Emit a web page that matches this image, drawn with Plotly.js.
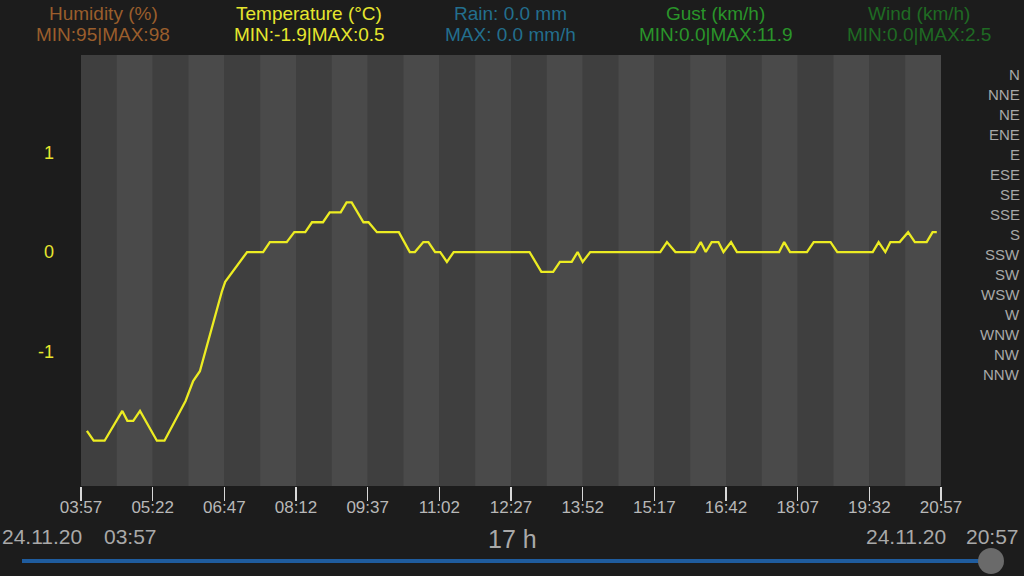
<!DOCTYPE html>
<html>
<head>
<meta charset="utf-8">
<script src="https://cdn.plot.ly/plotly-3.0.1.min.js"></script>
<style>
html,body{margin:0;padding:0;background:#1c1c1c;}
#chart{width:1024px;height:576px;}
</style>
</head>
<body>
<div id="chart"></div>
<script>
// ---- data ----
var day = '2020-11-24';
var times = ['04:04','04:12','04:25','04:46','04:52','04:59','05:07','05:27','05:36','06:01','06:10','06:18','06:44','06:48','07:14','07:33','07:41','08:01','08:10','08:23','08:31','08:44','08:52','09:05','09:12','09:18','09:32','09:38','09:48','10:14','10:27','10:33','10:43','10:49','10:57','11:03','11:11','11:19','12:49','13:03','13:17','13:25','13:39','13:46','13:52','14:01','15:24','15:32','15:42','16:05','16:12','16:18','16:25','16:33','16:39','16:48','16:55','17:45','17:51','17:58','18:18','18:26','18:46','18:54','19:36','19:43','19:51','19:57','20:08','20:18','20:26','20:40','20:47','20:52'];
var temperature = [-1.8,-1.9,-1.9,-1.6,-1.7,-1.7,-1.6,-1.9,-1.9,-1.5,-1.3,-1.2,-0.4,-0.3,0.0,0.0,0.1,0.1,0.2,0.2,0.3,0.3,0.4,0.4,0.5,0.5,0.3,0.3,0.2,0.2,0.0,0.0,0.1,0.1,0.0,0.0,-0.1,0.0,0.0,-0.2,-0.2,-0.1,-0.1,0.0,-0.1,0.0,0.0,0.1,0.0,0.0,0.1,0.0,0.1,0.1,0.0,0.1,0.0,0.0,0.1,0.0,0.0,0.1,0.1,0.0,0.0,0.1,0.0,0.1,0.1,0.2,0.1,0.1,0.2,0.2];
var xTickLabels = ['03:57','05:22','06:47','08:12','09:37','11:02','12:27','13:52','15:17','16:42','18:07','19:32','20:57'];
var yTickVals = [-1, 0, 1];
var directions = ['N','NNE','NE','ENE','E','ESE','SE','SSE','S','SSW','SW','WSW','W','WNW','NW','NNW'];
var headerTitles = ['Humidity (%)','Temperature (\u00B0C)','Rain: 0.0 mm','Gust (km/h)','Wind (km/h)'];
var headerValues = ['MIN:95|MAX:98','MIN:-1.9|MAX:0.5','MAX: 0.0 mm/h','MIN:0.0|MAX:11.9','MIN:0.0|MAX:2.5'];
var headerColors = ['#9a5e2c','#e6e62e','#236f8e','#2a952a','#1f6a23'];
var startLabel = ['24.11.20','03:57'];
var endLabel = ['24.11.20','20:57'];
var spanLabel = '17 h';

// ---- build ----
var FONT = 'Liberation Sans, Arial, Helvetica, sans-serif';
var W = 1024, H = 576, L = 81, R = 83, T = 55, B = 90;
var pw = W - L - R, ph = H - T - B;
function px(x){ return (x - L) / pw; }
function py(y){ return (H - B - y) / ph; }

var xs = times.map(function(t){ return day + ' ' + t; });
var tickVals = xTickLabels.map(function(t){ return day + ' ' + t; });

function toMs(s){ return new Date(s.replace(' ','T') + ':00Z').getTime(); }
function fromMs(ms){ var d = new Date(ms); return d.toISOString().slice(0,19).replace('T',' '); }

var shapes = [];
for (var i = 0; i < tickVals.length - 1; i++) {
  var a = toMs(tickVals[i]), b = toMs(tickVals[i+1]), m = (a + b) / 2;
  shapes.push({type:'rect', xref:'x', yref:'paper', x0: fromMs(a), x1: fromMs(m), y0:0, y1:1, fillcolor:'#3f3f3f', line:{width:0}, layer:'below'});
  shapes.push({type:'rect', xref:'x', yref:'paper', x0: fromMs(m), x1: fromMs(b), y0:0, y1:1, fillcolor:'#4a4a4a', line:{width:0}, layer:'below'});
}
// slider decoration
shapes.push({type:'line', xref:'paper', yref:'paper', x0: px(22), x1: px(985), y0: py(561), y1: py(561), line:{color:'#1f5c9e', width:4}});
shapes.push({type:'circle', xref:'paper', yref:'paper', x0: px(978), x1: px(1004), y0: py(574), y1: py(548), fillcolor:'#6a6a6a', line:{width:0}});

var annotations = [];
var headerX = [103, 309, 510, 715, 919];
for (var j = 0; j < headerTitles.length; j++) {
  annotations.push({xref:'paper', yref:'paper', x: px(headerX[j]), y: py(13.5), text: headerTitles[j], showarrow:false, xanchor:'center', yanchor:'middle', font:{family:FONT, size:19, color:headerColors[j]}});
  annotations.push({xref:'paper', yref:'paper', x: px(headerX[j]), y: py(34), text: headerValues[j], showarrow:false, xanchor:'center', yanchor:'middle', font:{family:FONT, size:19, color:headerColors[j]}});
}
directions.forEach(function(d, k){
  annotations.push({xref:'paper', yref:'y2', x: px(1022), y: k, text: d, showarrow:false, xanchor:'right', yanchor:'middle', font:{family:FONT, size:15, color:'#a8a8a8'}});
});
var grey = '#a9a9a9';
annotations.push({xref:'paper', yref:'paper', x: px(0), y: py(536), text: startLabel[0], showarrow:false, xanchor:'left', yanchor:'middle', font:{family:FONT, size:21, color:grey}});
annotations.push({xref:'paper', yref:'paper', x: px(102), y: py(536), text: startLabel[1], showarrow:false, xanchor:'left', yanchor:'middle', font:{family:FONT, size:21, color:grey}});
annotations.push({xref:'paper', yref:'paper', x: px(948), y: py(536), text: endLabel[0], showarrow:false, xanchor:'right', yanchor:'middle', font:{family:FONT, size:21, color:grey}});
annotations.push({xref:'paper', yref:'paper', x: px(1021), y: py(536), text: endLabel[1], showarrow:false, xanchor:'right', yanchor:'middle', font:{family:FONT, size:21, color:grey}});
annotations.push({xref:'paper', yref:'paper', x: px(512), y: py(539), text: spanLabel, showarrow:false, xanchor:'center', yanchor:'middle', font:{family:FONT, size:25, color:grey}});

var trace = {
  x: xs, y: temperature, type:'scatter', mode:'lines',
  line:{color:'#ecec22', width:2.3}, hoverinfo:'skip', showlegend:false
};
var dummy = { x:[xs[0]], y:[0], yaxis:'y2', type:'scatter', mode:'markers', marker:{opacity:0}, hoverinfo:'skip', showlegend:false };

var layout = {
  width: W, height: H,
  margin:{l:L, r:R, t:T, b:B, pad:0},
  paper_bgcolor:'#1c1c1c', plot_bgcolor:'#3f3f3f',
  font:{family:FONT},
  showlegend:false,
  xaxis:{
    type:'date', range:[tickVals[0], tickVals[tickVals.length-1]],
    tickmode:'array', tickvals: tickVals, ticktext: xTickLabels,
    ticks:'outside', ticklen:14, tickwidth:1.5, tickcolor:'#d8d8d8',
    ticklabelstandoff:-8,
    tickfont:{family:FONT, size:17, color:'#b8b8b8'},
    showgrid:false, zeroline:false, showline:false, fixedrange:true
  },
  yaxis:{
    range:[-2.356, 1.984], tickmode:'array', tickvals: yTickVals, ticktext: yTickVals.map(String),
    tickfont:{family:FONT, size:18, color:'#e6e62e'}, ticks:'', ticklabelstandoff:26,
    showgrid:false, zeroline:false, showline:false, fixedrange:true
  },
  yaxis2:{
    overlaying:'y', side:'right', range:[20.6, -0.95], showticklabels:false, ticks:'',
    showgrid:false, zeroline:false, showline:false, fixedrange:true
  },
  shapes: shapes,
  annotations: annotations
};

Plotly.newPlot('chart', [trace, dummy], layout, {displayModeBar:false, staticPlot:true});
</script>
</body>
</html>
